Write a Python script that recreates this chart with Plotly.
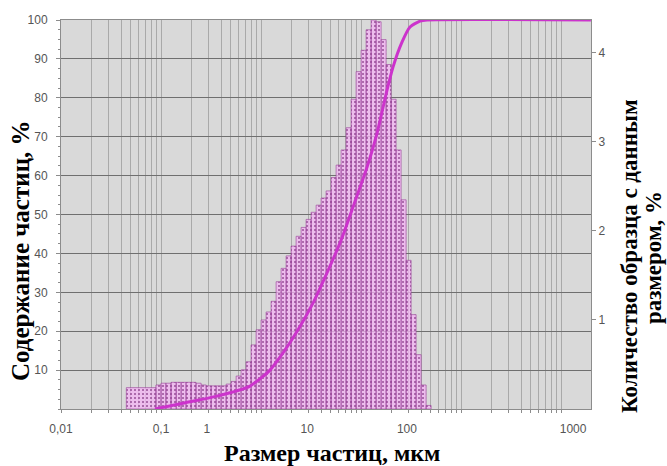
import plotly.graph_objects as go

# Size bins (µm) of the differential distribution and their share of the sample, %
bin_edges_um = [0.045, 0.089, 0.100, 0.112, 0.126, 0.142, 0.159, 0.178, 0.200, 0.224,
                0.252, 0.283, 0.317, 0.356, 0.399, 0.448, 0.502, 0.564, 0.632, 0.710,
                0.796, 0.893, 1.002, 1.125, 1.262, 1.416, 1.589, 1.783, 2.000, 2.244,
                2.518, 2.825, 3.170, 3.557, 3.991, 4.477, 5.024, 5.637, 6.325, 7.096,
                7.962, 8.934, 10.02, 11.25, 12.62, 14.16, 15.89, 17.83, 20.00, 22.44,
                25.18, 28.25, 31.70, 35.57, 39.91, 44.77, 50.24]
bin_share_pct = [0.24, 0.27, 0.29, 0.29, 0.30, 0.30, 0.30, 0.30, 0.30, 0.29,
                 0.27, 0.26, 0.26, 0.26, 0.26, 0.28, 0.31, 0.37, 0.44, 0.53,
                 0.72, 0.89, 1.00, 1.09, 1.21, 1.43, 1.58, 1.72, 1.83, 1.94,
                 2.04, 2.13, 2.21, 2.29, 2.37, 2.45, 2.60, 2.74, 2.91, 3.16,
                 3.48, 3.79, 4.03, 4.26, 4.37, 4.35, 4.15, 3.87, 3.48, 2.91,
                 2.35, 1.67, 1.06, 0.61, 0.27, 0.04]

# Cumulative content curve: size (µm) vs. passing fraction, %
cum_size_um = [0.087, 0.166, 0.363, 0.776, 1.23, 1.66, 2.34, 3.31, 4.57, 6.17,
               8.32, 11.5, 14.5, 18.2, 20.9, 25.7, 30.9, 38.9, 45.7, 1990]
cum_pct = [0.0, 1.5, 3.3, 5.9, 10.0, 14.4, 20.3, 27.2, 35.0, 42.7,
           51.9, 62.2, 71.0, 82.0, 87.9, 94.3, 98.2, 99.7, 100.0, 100.0]

# Axis labelling
x_tick_vals = [0.01, 0.1, 0.288, 2.9, 28.8, 1320]
x_tick_text = ["0,01", "0,1", "1", "10", "100", "1000"]
x_minor_vals = [m * 10 ** d for d in range(-2, 4) for m in range(1, 10) if m * 10 ** d <= 2000]
left_ticks = [10, 20, 30, 40, 50, 60, 70, 80, 90, 100]
right_ticks = [1, 2, 3, 4]

# Outline of every bin as its own closed rectangle
hx, hy = [], []
for lo, hi, h in zip(bin_edges_um[:-1], bin_edges_um[1:], bin_share_pct):
    hx += [lo, lo, hi, hi, lo, None]
    hy += [0, h, h, 0, 0, None]

tick_font = dict(family="Liberation Sans Narrow, Arial Narrow, Liberation Sans", size=12, color="#555555")
serif = "Liberation Serif, Times New Roman, serif"
axis_gray = "#8c8c8c"

fig = go.Figure()

fig.add_trace(go.Scatter(
    x=hx, y=hy, mode="lines", fill="toself",
    line=dict(color="rgba(150,60,150,0.6)", width=1),
    fillcolor="rgba(244,180,244,0.75)",
    fillpattern=dict(shape=".", fgcolor="#7a2a7a", fgopacity=0.7,
                     bgcolor="rgba(244,180,244,0.75)", size=4, solidity=0.22),
    yaxis="y", hoverinfo="skip",
))

fig.add_trace(go.Scatter(
    x=cum_size_um, y=cum_pct, mode="lines",
    line=dict(color="#cc33cc", width=3, shape="spline", smoothing=0.6),
    yaxis="y2", hoverinfo="skip",
))

fig.update_layout(
    width=667, height=466,
    margin=dict(l=61, r=76, t=20, b=57),
    paper_bgcolor="white", plot_bgcolor="#d9d9d9",
    showlegend=False,
    xaxis=dict(
        type="log", range=[-2, 3.3],
        tickmode="array", tickvals=x_tick_vals, ticktext=x_tick_text,
        ticks="outside", ticklen=9, tickcolor="rgba(0,0,0,0)",
        tickfont=tick_font, showgrid=False, zeroline=False,
        showline=True, linecolor=axis_gray, linewidth=1, mirror=True,
        minor=dict(tickmode="array", tickvals=x_minor_vals, ticks="outside",
                   ticklen=3, tickcolor=axis_gray, showgrid=True,
                   gridcolor="#a9a9a9", gridwidth=1),
    ),
    yaxis=dict(
        side="right", range=[0, 4.37],
        tickmode="array", tickvals=right_ticks,
        ticks="outside", ticklen=4, tickcolor=axis_gray,
        tickfont=tick_font, showgrid=False, zeroline=False,
        showline=True, linecolor=axis_gray, linewidth=1,
    ),
    yaxis2=dict(
        overlaying="y", side="left", range=[0, 100],
        tickmode="array", tickvals=left_ticks,
        ticks="outside", ticklen=4, tickcolor=axis_gray,
        tickfont=tick_font, ticklabelstandoff=6,
        showgrid=True, gridcolor="#6f6f6f", gridwidth=1, zeroline=False,
        showline=True, linecolor=axis_gray, linewidth=1,
        minor=dict(dtick=2.5, ticks="outside", ticklen=2, tickcolor=axis_gray),
    ),
    annotations=[
        dict(text="<b>Содержание частиц, %</b>", textangle=-90,
             xref="paper", yref="paper", x=(20 - 61) / 530, y=(409 - 251) / 389,
             xanchor="center", yanchor="middle", showarrow=False,
             font=dict(family=serif, size=25, color="#000000")),
        dict(text="<b>Размер частиц, мкм</b>",
             xref="paper", yref="paper", x=(332 - 61) / 530, y=(409 - 453) / 389,
             xanchor="center", yanchor="middle", showarrow=False,
             font=dict(family=serif, size=24, color="#000000")),
        dict(text="<b>Количество образца с данным</b>", textangle=-90,
             xref="paper", yref="paper", x=(629 - 61) / 530, y=(409 - 256) / 389,
             xanchor="center", yanchor="middle", showarrow=False,
             font=dict(family=serif, size=23, color="#000000")),
        dict(text="<b>размером, %</b>", textangle=-90,
             xref="paper", yref="paper", x=(653 - 61) / 530, y=(409 - 258) / 389,
             xanchor="center", yanchor="middle", showarrow=False,
             font=dict(family=serif, size=23, color="#000000")),
    ],
)

fig.write_html("out.html")
